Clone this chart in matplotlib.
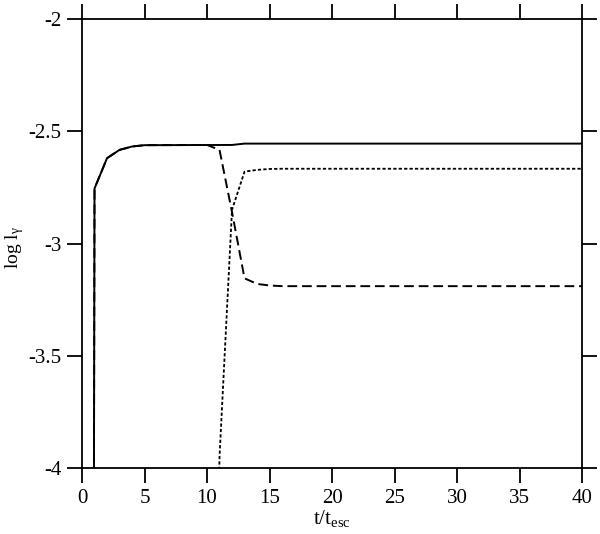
import numpy as np
import matplotlib
matplotlib.use("Agg")
import matplotlib.pyplot as plt
from matplotlib.ticker import MultipleLocator, FormatStrFormatter

plt.rcParams['font.family'] = ['Liberation Serif', 'DejaVu Serif']
plt.rcParams['mathtext.fontset'] = 'custom'
plt.rcParams['mathtext.rm'] = 'Liberation Serif'
plt.rcParams['mathtext.it'] = 'Liberation Serif:italic'
plt.rcParams['axes.unicode_minus'] = False

# data (time in units of t_esc, log luminosity)
t_solid = [0, 1, 2, 3, 4, 5, 12, 13, 40]
l_solid = [-30.0, -2.755, -2.62, -2.583, -2.568, -2.562, -2.561, -2.555, -2.555]

t_dash = [0, 1, 2, 3, 4, 5, 10, 11, 12, 13, 14, 15, 16, 40]
l_dash = [-30.0, -2.755, -2.62, -2.583, -2.568, -2.562, -2.561, -2.583,
          -2.86, -3.155, -3.18, -3.187, -3.19, -3.19]

t_dot = [10, 11, 12, 13, 14, 15, 16, 40]
l_dot = [-7.0, -3.95, -2.85, -2.68, -2.672, -2.668, -2.667, -2.667]

fig = plt.figure(figsize=(6.0, 5.34), dpi=100)
ax = fig.add_axes([0.1367, 0.1236, 0.8333, 0.8408])

ax.plot(t_solid, l_solid, color='black', lw=1.4, ls='-')
ax.plot(t_dash, l_dash, color='black', lw=1.4, ls=(0, (5, 2.5)))
ax.plot(t_dot, l_dot, color='black', lw=1.3, ls=(0, (1.8, 1.2)))

ax.set_xlim(0, 40)
ax.set_ylim(-4, -2)
ax.xaxis.set_major_locator(MultipleLocator(5))
ax.yaxis.set_major_locator(MultipleLocator(0.5))
ax.yaxis.set_major_formatter(FormatStrFormatter('%g'))

for s in ax.spines.values():
    s.set_linewidth(1.3)
ax.tick_params(which='major', direction='out', length=11, width=1.3,
               top=True, right=True, labelsize=15, pad=4)

ax.set_xlabel(r't/t$_{\rm esc}$', fontsize=15, labelpad=0)
ax.set_ylabel(r'log l$_{\mathrm{γ}}$', fontsize=14)
ax.yaxis.set_label_coords(-0.112, 0.49)

fig.savefig('out.png', dpi=100)
